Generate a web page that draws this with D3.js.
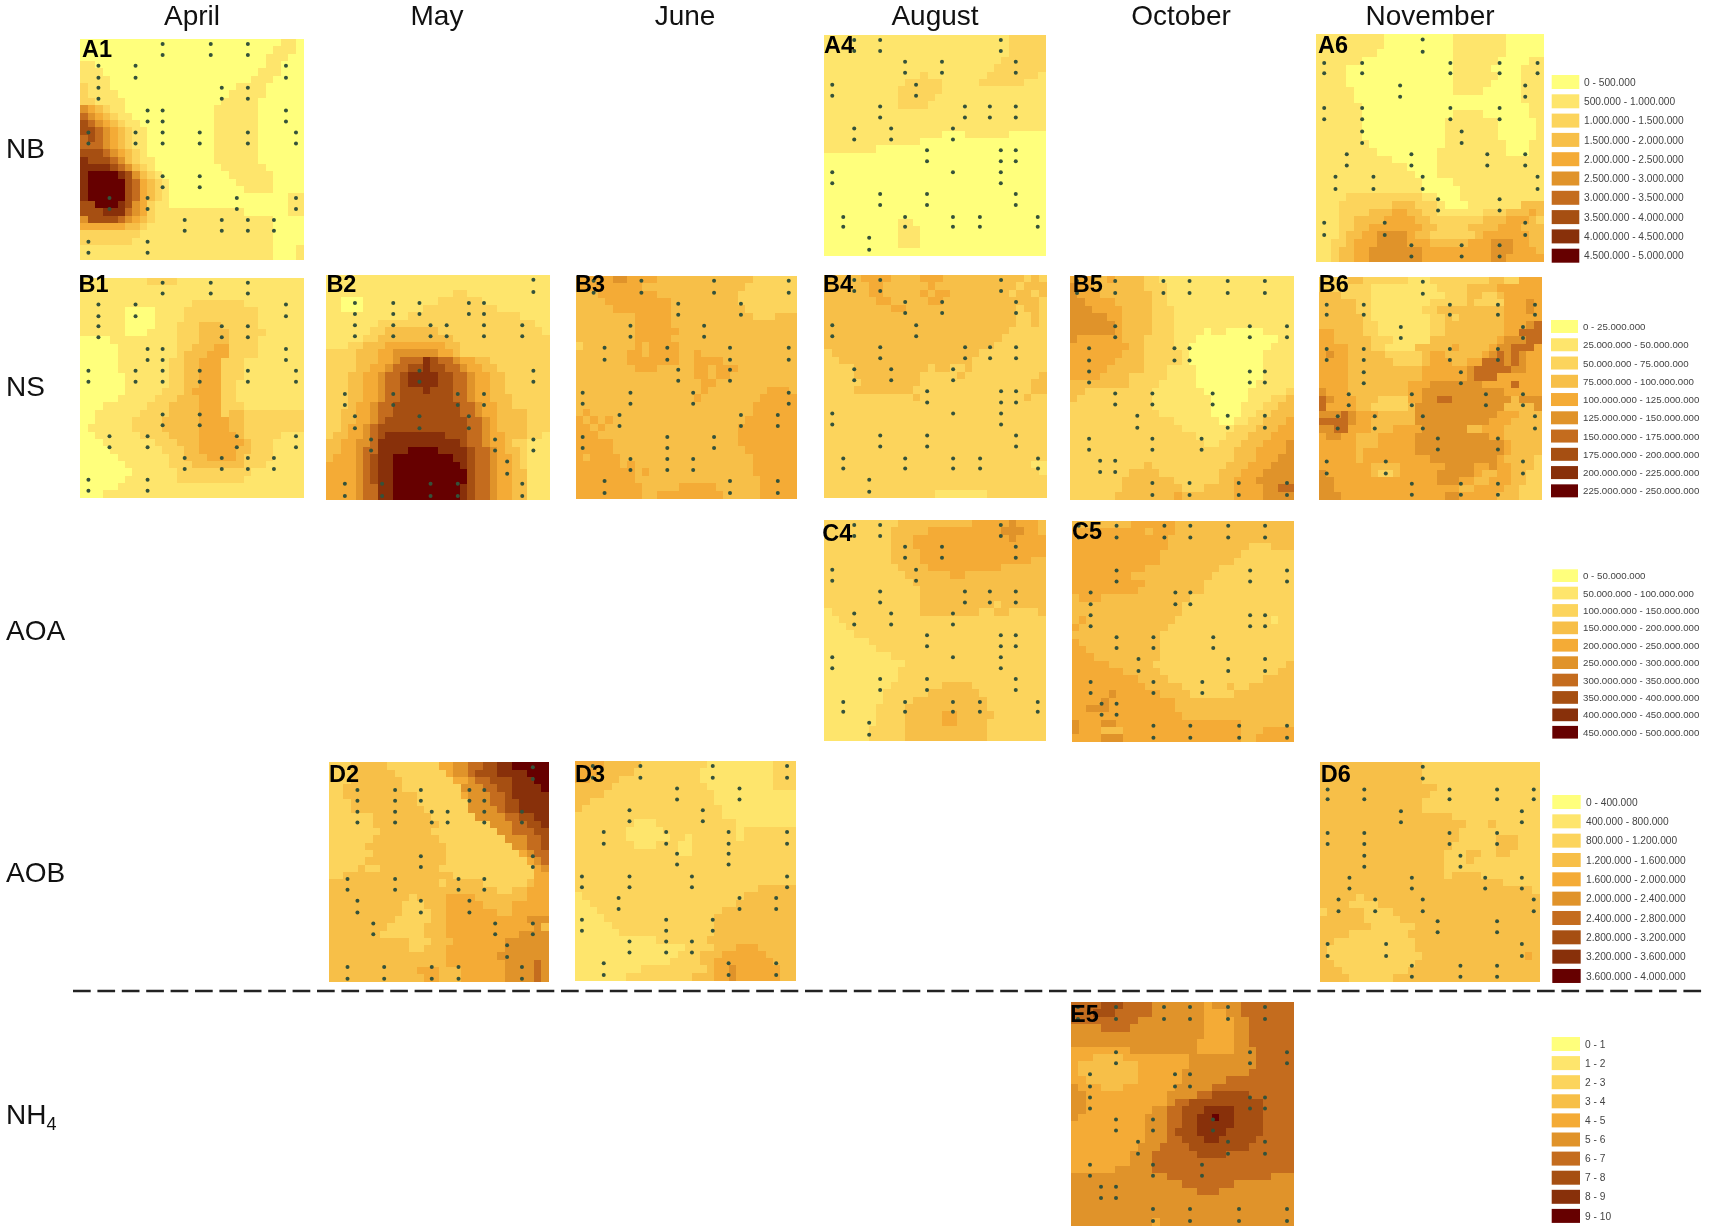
<!DOCTYPE html>
<html>
<head>
<meta charset="utf-8">
<title>Soil maps</title>
<script src="https://d3js.org/d3.v7.min.js"></script>
<style>
    html, body { margin: 0; padding: 0; background: #fff; }
    text { font-family: "Liberation Sans", Arial, sans-serif; }
</style>
</head>
<body>
<div id="chart"></div>
<script>
const months = ['April', 'May', 'June', 'August', 'October', 'November'];
const variables = ['NB', 'NS', 'AOA', 'AOB', 'NH'];
const classColors = ['#FFFF7C', '#FEE56C', '#FCD45C', '#F7BF48', '#F4AB36', '#E0932A', '#C46C1E', '#A64F12', '#88300A', '#660000'];

const legendNB = ['0 - 500.000', '500.000 - 1.000.000', '1.000.000 - 1.500.000', '1.500.000 - 2.000.000', '2.000.000 - 2.500.000', '2.500.000 - 3.000.000', '3.000.000 - 3.500.000', '3.500.000 - 4.000.000', '4.000.000 - 4.500.000', '4.500.000 - 5.000.000'];
const legendNS = ['0 - 25.000.000', '25.000.000 - 50.000.000', '50.000.000 - 75.000.000', '75.000.000 - 100.000.000', '100.000.000 - 125.000.000', '125.000.000 - 150.000.000', '150.000.000 - 175.000.000', '175.000.000 - 200.000.000', '200.000.000 - 225.000.000', '225.000.000 - 250.000.000'];
const legendAOA = ['0 - 50.000.000', '50.000.000 - 100.000.000', '100.000.000 - 150.000.000', '150.000.000 - 200.000.000', '200.000.000 - 250.000.000', '250.000.000 - 300.000.000', '300.000.000 - 350.000.000', '350.000.000 - 400.000.000', '400.000.000 - 450.000.000', '450.000.000 - 500.000.000'];
const legendAOB = ['0 - 400.000', '400.000 - 800.000', '800.000 - 1.200.000', '1.200.000 - 1.600.000', '1.600.000 - 2.000.000', '2.000.000 - 2.400.000', '2.400.000 - 2.800.000', '2.800.000 - 3.200.000', '3.200.000 - 3.600.000', '3.600.000 - 4.000.000'];
const legendNH = ['0 - 1', '1 - 2', '2 - 3', '3 - 4', '4 - 5', '5 - 6', '6 - 7', '7 - 8', '8 - 9', '9 - 10'];

// sampling points per month: [y of first core, y of second core, x positions]
const pointsApril = [[5,16,[82,130,167]],[27,39,[18,55,205]],[49,60,[18,141,167]],[72,83,[67,82,205]],[94,105,[8,55,82,119,167,215]],[138,149,[82,119]],[160,171,[29,67,156,215]],[182,193,[104,141,167,193]],[204,215,[8,67]]];
const pointsMay = [[5,17,[206]],[28,39,[29,67,93,142,157]],[50,61,[29,67,104,120,157,195]],[95,106,[93,206]],[118,129,[19,67,131,157]],[140,152,[29,93,142]],[163,174,[45,168,206]],[185,197,[180]],[207,219,[19,56,104,131,195]]];
const pointsJune = [[5,17,[18,66,139,214]],[28,39,[103,166]],[50,61,[55,129]],[72,84,[29,92,155,214]],[94,105,[103,155]],[117,128,[7,55,118,214]],[139,150,[44,166,203]],[161,172,[7,92,139]],[183,194,[55,92,118]],[205,217,[29,155,203]]];
const pointsAugust = [[5,16,[30,56,177]],[27,38,[81,118,192]],[50,61,[8,92]],[72,83,[56,141,166,192]],[94,105,[30,67,129]],[116,127,[103,177,192]],[138,149,[8,177]],[138,138,[129]],[160,171,[56,103,192]],[183,193,[19,81,129,156,214]],[204,216,[45]]];
const pointsOctober = [[5,17,[7,45,93,119,157,194]],[50,61,[45,179,216]],[72,84,[19,104,119]],[95,106,[19,179,194]],[117,128,[45,82,142]],[139,151,[67,157,194]],[162,173,[19,82,131]],[184,195,[30,45]],[206,218,[82,119,168,216]]];
const pointsNovember = [[5,17,[104]],[28,38,[8,45,131,179,216]],[50,61,[82,204]],[72,83,[8,45,131,179]],[95,106,[45,142]],[117,128,[30,93,167,204]],[139,151,[19,56,104,216]],[161,172,[119,179]],[184,196,[8,67,204]],[206,217,[93,142,179]]];

// class index (0-9) of each map cell
const gridA1 = [
'000000000000000000000000000110',
'000000000000000000000000001110',
'000000000000000000000000011100',
'110000000000000000000000011000',
'111000000000000000000000111000',
'111100000000000000000001110000',
'211100000000000000000111100000',
'211110000000000000001111100000',
'221111000000000000011111000000',
'543211000000000000111111000000',
'654321100000000000111111000000',
'765432110000000000111111000000',
'776543211000000000111111000000',
'676543211000000000111111000000',
'666543211000000000111111000000',
'777654321000000000111111000000',
'877765321100000000111111000000',
'888876532100000000011111100000',
'899998753210000000001111110000',
'899999764321000000000111110000',
'899999764321000000000011110000',
'899999764321000000000000000011',
'779998754211000000000000000011',
'777888654211111111111100000011',
'577776543211111111111111110000',
'444444332111111111111111110000',
'222222221111111111111111110000',
'222222211111111111111111110000',
'111111111111111111111111110001',
'111111111111111111111111110001'];
const gridB1 = [
'111111111222211111111111111111',
'111111111111111111111111111111',
'111111111111111111111111111111',
'111111111111111222222211111111',
'111111000011112222222222111111',
'111111000011112222222222111111',
'111111000011122233322222111111',
'111111000111122233332222211111',
'000011111111122233332222111111',
'000001111111122333442222111111',
'000001111111123334442222111111',
'000001111111223344422211111111',
'000001111111223344422211111111',
'000000111111223344422211111111',
'000000111111223344422111111111',
'000000111112223444422111111111',
'000001111122233344422111111111',
'000111111222333344422211111111',
'001111112222333344423322222222',
'001111122223333344443322222222',
'011111122223333344443322222222',
'001111112222333344444322222111',
'000111111122233344444432221111',
'000011111112223344444332221111',
'000001111111223334444322221111',
'000000111111222333333322211111',
'000000011111122222222221111111',
'000000111111122222222211111111',
'000001111111111111111111111111',
'000111111111111111111111111111'];
const gridB2 = [
'111111111111111111111111111111',
'111111111111111111111111111111',
'111111111111111112211111111111',
'110001111111111222222111111111',
'110001111111122222222221111111',
'111111111112222222222222221111',
'111111122222222222222222222211',
'111111223333333222222222222221',
'111112233333333332222222222222',
'111223334444444433222222222222',
'222233344555555443222222222222',
'222233344566687665443322222222',
'222233445667787766544332222222',
'222334456678888776654433222222',
'222334456678888776654433222222',
'222334456677787776654433222222',
'222334456677777776654433322222',
'222344566777777777665443322222',
'223344566777777777665443333222',
'223344567777777777766543333222',
'223445677777777777766543333222',
'233445678888888877766544333221',
'334455688888888888766544322111',
'334456688889999888876654332111',
'344456788999999998876654432111',
'444456788999999999876654432111',
'444456788999999999976654433111',
'444456788999999999976654433111',
'444456688999999999876654433111',
'444456688999999999876654433111'];
const gridB3 = [
'444445544443333333333333222222',
'444444444333333333333332222222',
'333444444443333333333322222222',
'333344444444433333333322222222',
'333334444444433333333332222222',
'333333334444433333333333222333',
'333333334444433333333333333333',
'333333334444443333333333333333',
'333333334444433333333333333333',
'233333334344443333333333333333',
'333333344344443343333333333333',
'333333344444443344443333333333',
'333333334443333344344433333333',
'333333333333333344344333333333',
'333333333333333334433333333333',
'333333333333333334333333334443',
'333333333333333343333333344444',
'333333333333333333333333444444',
'343333333333333333333333444444',
'434343333333333333333334444444',
'443433333333333333333344444444',
'444333333333333333333344444444',
'444443333333333333333344444444',
'444443333333333333333334444444',
'434444333333333333333333444444',
'444444343333333333333333444444',
'444444443433333333333333444444',
'444444443333333333333333344444',
'444444444333334444433333344444',
'444444444334444444443333344444'];
const gridA4 = [
'111111111111111111111111122222',
'111111111111111111111111122222',
'111111111111111111111111122222',
'111111111111111111111111222222',
'111111111111111111111112222222',
'111111111111121111111122222221',
'111111111112222211111222222111',
'111111111122222211111111111111',
'111111111122222111111111111111',
'111111111122221111111111111111',
'111111111111111111111111111111',
'111111111111111111111111111111',
'111111111111111111111111111111',
'111111111111111100011111100000',
'111111111111100000000000000000',
'111111100000000000000000000000',
'000000000000000000000000000000',
'000000000000000000000000000000',
'000000000000000000000000000000',
'000000000000000000000000000000',
'000000000000000000000000000000',
'000000000000000000000000000000',
'000000000000000000000000000000',
'000000000000000000000000000000',
'000000000000000000000000000000',
'000000000011000000000000000000',
'000000000011100000000000000000',
'000000000011100000000000000000',
'000000000011100000000000000000',
'000000000000000000000000000000'];
const gridB4 = [
'333334444333344433333333333232',
'333333443333334333333333332333',
'333333443333343443333333323323',
'333333344333334433333333333332',
'333333333443333333333333332332',
'333333333333333333333333332232',
'333333333333333333333333332232',
'333333333333333333333333322222',
'333333333333333333333333222222',
'333333333333333333333332222222',
'233333333333333333333222222222',
'223333333333333333332222222222',
'222233333333332332232222222222',
'222233333333322222322222222223',
'222223333333322222222222222233',
'222233333333222222222222222233',
'222222222222322222222222222322',
'222222222222222222222222222222',
'222222222222222222222222222222',
'222222222222222222222222222222',
'222222222222222222222222222222',
'222222222222222222222222222222',
'222222222222222222222222222222',
'222222222222222222222222222222',
'222222222222222222222222222222',
'222222222222222222222222222211',
'222222222222222222222222222221',
'222222222222222222222222222222',
'222222222222222222222222222222',
'222222222222222111111122222222'];
const gridC4 = [
'222222222233333333334444454443',
'222222222333334444444444555443',
'222222222333444444444444454444',
'222222222333444444444444444444',
'222222222333344444444444444444',
'222222222333344444444444444433',
'222222222233334444444444333333',
'222222222223333334433333333333',
'222222222222333333333333333333',
'222222222222233333333333333333',
'222222222222233333333333333333',
'222222222222233333333332333333',
'122222222222233333333223322223',
'112222222222222222222222222222',
'111222222222222222222222222222',
'111122222222222222222222222222',
'111111222222222222222222222222',
'111111122222222222222222222222',
'111111111222222222222222222222',
'111111111112222222222222222222',
'111111111122222222222222222222',
'111111111122222222222222222222',
'111111111222222233332222222222',
'111111112222223333333222222222',
'111111112222333333333322222222',
'111111122223333333333322222222',
'111111122223333344333332222222',
'111111122223333344333322222222',
'111111222223333333333322222222',
'111111222223333333333322222222'];
const gridB5 = [
'444334333322111111111111111111',
'544333333322211111111111111111',
'544433333332211111111111111111',
'554444333332211111111111111111',
'555444433332221111111111111111',
'555554433332221111111111111111',
'555555433332221111111111111111',
'555555433332221111011000001111',
'544444433322221110000000000011',
'444444443322221100000000000111',
'444444433322222100000000001111',
'444444333322222100000000001111',
'444443333322211110000000001111',
'444433332222211110000000001111',
'333333332222111110000000011111',
'332222222221111111000000111112',
'322222222221111111100000111223',
'222222222221111111100001112233',
'222222222222111111100001122333',
'222222222222221111110011223334',
'222222222222222111111122233344',
'222222222222222221111222333444',
'222222222222222222112223334445',
'222222222222222222222233344445',
'222222222222222222222233344455',
'222222222232222222222333444555',
'222222223333222222223334445555',
'222222233333332222223344455555',
'222222233333333222333344445566',
'222222333333334333333344445555'];
const gridC5 = [
'333333334444443333333333333333',
'444444444434443333333333333333',
'444444444444433333333333333333',
'444444444444433333333333222333',
'444444444444333333333332222222',
'444444444444333333333322222222',
'444444444433333333332222222222',
'444444443333333333322222222222',
'444444444433333333222222222222',
'444444444333333333222222222222',
'344433333333333322222222222222',
'333333333333333222222222222222',
'333333333333333222222222222222',
'343333333333332222222222222122',
'433333333333322222222222222222',
'333333333333222222222222222222',
'433333333333222222222222222222',
'443333333333222222222222222222',
'444333333333222222222222222222',
'444443333332222222222222222223',
'444444433333222222222222222233',
'444444444333322222222222223333',
'444444444433333222222322333333',
'444445444444333322222233333333',
'444454444444443333333333333333',
'445554444444443333333333333333',
'444444444444444333333333333333',
'544455444444444444444443333333',
'544433344444444444444443334444',
'444455544444444444444443344444'];
const gridA6 = [
'111111111000000000111111100000',
'111111111000000000111111100000',
'111111110000000000111111100000',
'111111000000000000111111000011',
'111100000000000000111110000111',
'111100000000000000111111000111',
'111100000000000000111110000111',
'111110000000000000111100000111',
'111110000000000000000000000111',
'111111000000000000000000000011',
'111111000000000000111100000011',
'111111000000000001111111000001',
'111111000000000001111111000001',
'111111000000000001111111000001',
'111111100000000001111111100011',
'111111110000000011111111100011',
'111111111100000011111111111111',
'111111111111000011111111111111',
'111111111111100011111111111111',
'111111111111110000111111111111',
'111111111111110000011111111111',
'111122222222221100011111111111',
'111222222233322210001111111333',
'111222233344332211111122233343',
'111223333444433222222233344432',
'111223344444443322223333444333',
'111233445555433222222344444433',
'112234445555444333334445554433',
'112334455555554444444445554443',
'112334455555554444444445544444'];
const gridB6 = [
'222233222222111222222223322444',
'222222211111111122223333444444',
'333222211111111112223322344444',
'333332211111111222223222244454',
'333332211111112233333333344454',
'333333211111111223233333344444',
'333333221111111223333333344456',
'443333221111111223333333344666',
'443333322211111333333333455566',
'444433322111133333433334556664',
'454433333222223443333345656544',
'444433333322223444334466656544',
'444433333333334444445666665544',
'444433333333334444445666444444',
'444433333333444555555544446444',
'544433333333445555555555544444',
'654443332222445566555555553555',
'644443322222355555555555533335',
'555654443333355555555555444333',
'666654433333355555555554443333',
'556644433344445555553344433333',
'455443334444455555555554433333',
'444443334444455555555555543333',
'444443444444455555555555543333',
'444443444444444555555555433332',
'444444433334444445555445443332',
'544444432234444455555433443322',
'554444444444444455544334443322',
'554444444444444444433444433222',
'555444444444444445544444333222'];
const gridD2 = [
'222333332222222445566778899999',
'222333333222222245567778888999',
'222333333322222224456677788899',
'223333333322222222555667788889',
'223333333333222222455566788888',
'222333333333222222255566778888',
'222333333333322222255556778888',
'222222333333332222225555667788',
'222222333333333222222255566778',
'222222233333332222222225566677',
'222222333333333222222222555667',
'222223333333333322222222255667',
'222222333333333322222222224566',
'222223333333333322222222222456',
'222232233333333222222222222245',
'223333333333333332222222222244',
'333333333333333233333222222344',
'333333333333333333333332233444',
'333333333332333344443333333444',
'333333333322233344444333344444',
'333333333322223344444443344444',
'333333333222223344444444444555',
'333333332222233344444444444453',
'333333322222233344444444445555',
'333333333332223334444444555555',
'333333333332233344444444555555',
'333333333333333344444445555555',
'333333333333333344444444555565',
'333333333333444333444444555565',
'333333333333344333444444555565'];
const gridD3 = [
'444433333222222222111111111222',
'444333332222222221111111111222',
'443333222222222221111111111222',
'333332222222222222111111111222',
'333322222222222222211111111111',
'332222222222222222211111111111',
'322222222222222222221111111111',
'222222222222222222221111111111',
'222222221112222222222211111111',
'222222211111222222222212222222',
'222222211111122122222212222222',
'222222221112221122222222222222',
'222222222222221122222222222222',
'222222222222222222222222222222',
'222222222222222222222222222222',
'222222222222222222222222222222',
'222222222222222222222222222222',
'222222222222222222222222233333',
'122222222222222222222223333333',
'112222222222222222222233333333',
'111222222222222222223333333333',
'111122222222222222233333333333',
'111112222222222222233333333333',
'111111222222222222233333333333',
'111111111112222222333333333333',
'111111111111111222233344433333',
'111111111111112223334444443333',
'111111111111122223344444444333',
'111111111222222222344544444433',
'111111122222222233344544444433'];
const gridD6 = [
'333333333333332222222222222222',
'333333333333332222222222222222',
'333333333333332222222222222222',
'333333333333333322222222222222',
'333333333333333222222222222222',
'333333333333332222222222222222',
'333333333333332222222222222222',
'333333333333333333222222222222',
'333333333333333333332223222222',
'333333333333333333322222222222',
'333333333333333333322222333222',
'333333333333333333222222333222',
'333333333333333332223322332222',
'333333333333333332223222222222',
'333333333333333332222222222222',
'333333333333333332333322222222',
'333333333333333333333333322222',
'333333333333333333333333333332',
'333332333333333333333333333333',
'333322223333333333333333333333',
'233333222233333333333333333333',
'333333222223333333333333333333',
'333333322222233333333333333333',
'333322222222333333333333333333',
'332222222222233333333333333333',
'322222222222233333333333333333',
'322222222222223333333333333343',
'332222222222233333333333333333',
'333222222222333333333333333333',
'333322222233333333333333333333'];
const gridE5 = [
'666677766665555555455556666666',
'666777666665555555444556666666',
'666666666555555555444455666666',
'555566665555555555444455666666',
'555555555555555555444455666666',
'555555555555555554444455666666',
'444444445555555554444455566666',
'444333344444444455555555566666',
'433333333444444455555555566666',
'433333333444444555555555666666',
'443333333444444555555666666666',
'544433344444445555566666666666',
'554444444444455556677777666666',
'554444444444456677777777776666',
'554444444445566777888877776666',
'544444444455566778898877776666',
'444444444455566778888877776666',
'444444444455567778888777776666',
'444444444455566777887777766666',
'444444444555666677777777666666',
'444444445556666667777666666666',
'444444445556666666666666666666',
'444444555556666666666666666666',
'555555555555566666666666666555',
'555555555555555666666655555555',
'555555555555555556665555555555',
'555555555555555555555555555555',
'555555555555555555555555555555',
'555555555555555555555555555555',
'555555555554555555555555555555'];

// panel boxes in page pixels, label anchor next to them
const panels = [
    { name: 'A1', grid: gridA1, points: pointsApril, x0: 80.4, x1: 303, y0: 39, y1: 259.7, lx: 82, ly: 56.7 },
    { name: 'A4', grid: gridA4, points: pointsAugust, x0: 824.3, x1: 1045.7, y0: 35, y1: 255.7, lx: 824, ly: 52.7 },
    { name: 'A6', grid: gridA6, points: pointsNovember, x0: 1316, x1: 1543.7, y0: 34.3, y1: 261.7, lx: 1318, ly: 52.7 },
    { name: 'B1', grid: gridB1, points: pointsApril, x0: 80.4, x1: 303, y0: 277.7, y1: 497.7, lx: 78.5, ly: 291.7 },
    { name: 'B2', grid: gridB2, points: pointsMay, x0: 325.7, x1: 549.5, y0: 274.7, y1: 499, lx: 326.4, ly: 291.7 },
    { name: 'B3', grid: gridB3, points: pointsJune, x0: 575.7, x1: 796.7, y0: 275.7, y1: 498, lx: 575, ly: 291.7 },
    { name: 'B4', grid: gridB4, points: pointsAugust, x0: 824.3, x1: 1046, y0: 275, y1: 497.7, lx: 823, ly: 291.7 },
    { name: 'B5', grid: gridB5, points: pointsOctober, x0: 1070, x1: 1293, y0: 276, y1: 499, lx: 1072.7, ly: 291.7 },
    { name: 'B6', grid: gridB6, points: pointsNovember, x0: 1318.7, x1: 1541, y0: 276.7, y1: 499.7, lx: 1318.7, ly: 291.7 },
    { name: 'C4', grid: gridC4, points: pointsAugust, x0: 824.3, x1: 1045.7, y0: 520, y1: 740.7, lx: 822.3, ly: 540.7 },
    { name: 'C5', grid: gridC5, points: pointsOctober, x0: 1071.7, x1: 1293, y0: 520.7, y1: 741.7, lx: 1072, ly: 539.3 },
    { name: 'D2', grid: gridD2, points: pointsMay, x0: 328.7, x1: 548.7, y0: 762.3, y1: 981.7, lx: 329, ly: 782.3 },
    { name: 'D3', grid: gridD3, points: pointsJune, x0: 575, x1: 795, y0: 761, y1: 980, lx: 575, ly: 782.3 },
    { name: 'D6', grid: gridD6, points: pointsNovember, x0: 1319.7, x1: 1539.7, y0: 761.7, y1: 981.7, lx: 1320.7, ly: 781.7 },
    { name: 'E5', grid: gridE5, points: pointsOctober, x0: 1071, x1: 1293, y0: 1002, y1: 1225, lx: 1070, ly: 1022 }
];

const legends = [
    { labels: legendNB, x: 1551.7, w: 27.6, y: 75, h: 14, step: 19.3, tx: 1584, fs: 10.2 },
    { labels: legendNS, x: 1551, w: 27, y: 320, h: 13, step: 18.26, tx: 1583, fs: 9.7 },
    { labels: legendAOA, x: 1552.3, w: 25.7, y: 569.3, h: 12.7, step: 17.4, tx: 1583, fs: 9.7 },
    { labels: legendAOB, x: 1552.3, w: 28.4, y: 795, h: 14, step: 19.33, tx: 1586, fs: 10.2 },
    { labels: legendNH, x: 1551.7, w: 28.3, y: 1037, h: 14, step: 19.1, tx: 1585, fs: 10.2 }
];

const monthCenters = [192, 437, 685, 935, 1181, 1430];
const rowBaselines = [157.7, 396, 640, 882, 1124];
const nCells = 30;

const color = d3.scaleOrdinal().domain(d3.range(10)).range(classColors);

const svg = d3.select('#chart')
    .append('svg')
    .attr('width', 1710)
    .attr('height', 1231)
    .style('display', 'block')
    .style('filter', 'blur(0.4px)'); // the source figure is a soft raster

svg.selectAll('.month')
    .data(months)
    .enter()
    .append('text')
    .attr('class', 'month')
    .attr('x', (d, i) => monthCenters[i])
    .attr('y', 25)
    .attr('text-anchor', 'middle')
    .attr('font-size', 28)
    .attr('fill', '#111')
    .text(d => d);

const rowLabels = svg.selectAll('.variable')
    .data(variables)
    .enter()
    .append('text')
    .attr('class', 'variable')
    .attr('x', 6)
    .attr('y', (d, i) => rowBaselines[i])
    .attr('font-size', 28)
    .attr('fill', '#111')
    .text(d => d);

// subscript of NH4
rowLabels.filter(d => d === 'NH')
    .append('tspan')
    .attr('dy', 6)
    .attr('font-size', 18)
    .text('4');

panels.forEach(function (p) {
    const g = svg.append('g').attr('class', 'panel');
    const xCell = d3.scaleBand().domain(d3.range(nCells)).range([p.x0, p.x1]);
    const yCell = d3.scaleBand().domain(d3.range(nCells)).range([p.y0, p.y1]);
    const xMap = d3.scaleLinear().domain([0, 222]).range([p.x0, p.x1]);
    const yMap = d3.scaleLinear().domain([0, 222]).range([p.y0, p.y1]);

    const cells = [];
    p.grid.forEach((row, r) => {
        row.split('').slice(0, nCells).forEach((c, col) => {
            cells.push({ r: r, col: col, v: +c });
        });
    });

    g.selectAll('rect')
        .data(cells)
        .enter()
        .append('rect')
        .attr('x', d => xCell(d.col))
        .attr('y', d => yCell(d.r))
        .attr('width', xCell.bandwidth() + 0.5)
        .attr('height', yCell.bandwidth() + 0.5)
        .attr('shape-rendering', 'crispEdges')
        .attr('fill', d => color(d.v));

    const dots = [];
    p.points.forEach(row => {
        row[2].forEach(x => {
            dots.push([x, row[0]]);
            if (row[1] !== row[0]) dots.push([x, row[1]]);
        });
    });

    g.selectAll('circle')
        .data(dots)
        .enter()
        .append('circle')
        .attr('cx', d => xMap(d[0]))
        .attr('cy', d => yMap(d[1]))
        .attr('r', 2)
        .attr('fill', '#34523a');

    g.append('text')
        .attr('x', p.lx)
        .attr('y', p.ly)
        .attr('font-size', 23.5)
        .attr('font-weight', 'bold')
        .attr('fill', '#000')
        .text(p.name);
});

legends.forEach(function (l) {
    const g = svg.append('g').attr('class', 'legend');
    const y = d3.scaleLinear().domain([0, 1]).range([l.y, l.y + l.step]);

    g.selectAll('rect')
        .data(l.labels)
        .enter()
        .append('rect')
        .attr('x', l.x)
        .attr('y', (d, i) => y(i))
        .attr('width', l.w)
        .attr('height', l.h)
        .attr('fill', (d, i) => color(i));

    g.selectAll('text')
        .data(l.labels)
        .enter()
        .append('text')
        .attr('x', l.tx)
        .attr('y', (d, i) => y(i) + l.h / 2 + l.fs * 0.36)
        .attr('font-size', l.fs)
        .attr('fill', '#444')
        .text(d => d);
});

// separator between the biological maps and NH4
svg.append('line')
    .attr('x1', 73)
    .attr('x2', 1706)
    .attr('y1', 991)
    .attr('y2', 991)
    .attr('stroke', '#222')
    .attr('stroke-width', 2.4)
    .attr('stroke-dasharray', '17.7 6.7');
</script>
</body>
</html>
